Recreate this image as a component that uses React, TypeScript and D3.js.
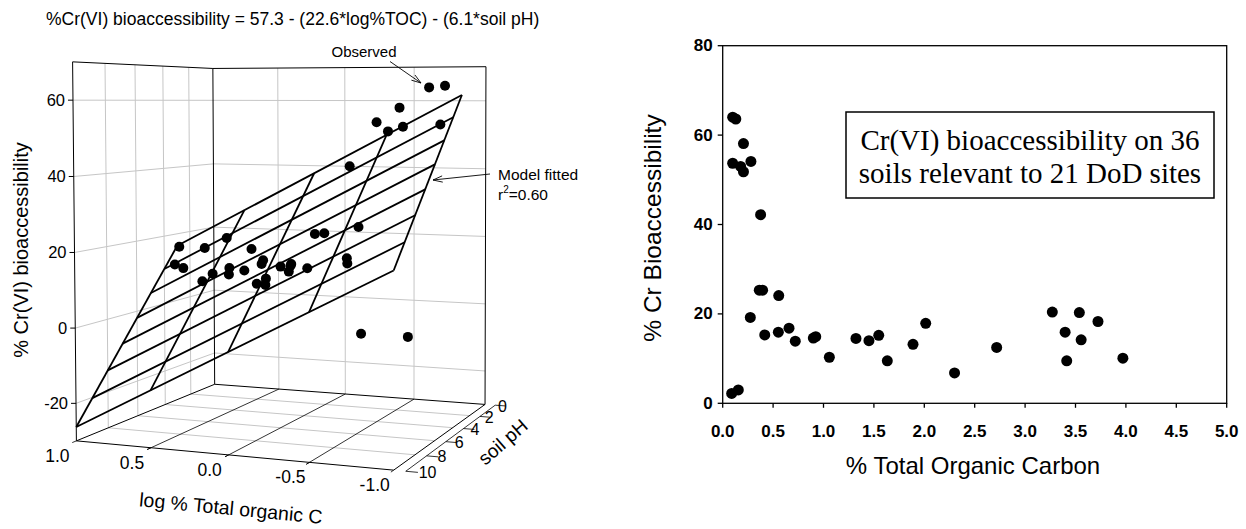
import React from "react";
import * as d3 from "d3";

// ---------------- DATA (36 soils) ----------------
const tocPct = [0.099, 0.13, 0.099, 0.178, 0.206, 0.206, 0.28, 0.376, 0.363, 0.396, 0.556, 0.274, 0.417, 0.552, 0.658, 0.72, 0.899, 0.923, 1.058, 1.322, 1.451, 1.548, 1.633, 1.888, 2.014, 2.3, 2.718, 3.27, 3.397, 3.413, 3.538, 3.556, 3.723, 3.97, 0.089, 0.155];
const crBio = [64.0, 63.6, 53.7, 53.0, 51.8, 58.1, 54.1, 42.2, 25.3, 25.3, 24.1, 19.2, 15.3, 15.9, 16.8, 13.9, 14.6, 14.9, 10.3, 14.5, 14.0, 15.2, 9.5, 13.2, 17.9, 6.8, 12.5, 20.4, 15.9, 9.5, 20.3, 14.2, 18.3, 10.1, 2.2, 3.0];
const soilPH = [5.0, 4.7, 5.5, 5.2, 5.7, 4.55, 4.8, 5.5, 4.9, 7.45, 6.3, 7.7, 5.1, 8.5, 8.2, 5.5, 5.7, 5.5, 6.9, 7.4, 8.1, 5.1, 4.6, 4.2, 4.7, 3.6, 5.0, 4.3, 8.0, 6.0, 7.5, 7.2, 5.4, 4.5, 9.5, 10.0];

const modelIntercept = 57.3;
const modelTocCoef = 22.6;
const modelPhCoef = 6.1;
const planeLogToc = [1, 0.5, 0, -0.5, -1];
const planePH = [3, 4, 5, 6, 7, 8, 9, 10];

const zTicks = [-20, 0, 20, 40, 60];
const logTocTicks = [1.0, 0.5, 0.0, -0.5, -1.0];
const phTicks = [0, 2, 4, 6, 8, 10];
const phGrid = [2, 4, 6, 8];
const logTocGrid = [0.5, 0, -0.5];

const tocTicks = [0, 0.5, 1, 1.5, 2, 2.5, 3, 3.5, 4, 4.5, 5];
const bioTicks = [0, 20, 40, 60, 80];

const leftTitle = "%Cr(VI) bioaccessibility = 57.3 - (22.6*log%TOC) - (6.1*soil pH)";
const boxLines = ["Cr(VI) bioaccessibility on 36", "soils relevant to 21 DoD sites"];

// ---------------- 3D projection ----------------
const uScale = d3.scaleLinear().domain([1, -1]).range([0, 1]);
const vScale = d3.scaleLinear().domain([10, 0]).range([0, 1]);
const wScale = d3.scaleLinear().domain([-30, 70]).range([0, 1]);

// box corner anchors (unit cube -> screen)
const anchors: number[][] = [
  [0, 0, 0, 77, 441],
  [0, 0, 1, 74, 60],
  [0, 1, 0, 215, 384],
  [0, 1, 1, 213, 69],
  [1, 1, 0, 486, 403],
  [1, 1, 1, 488, 67],
  [1, 0, 0, 393, 471],
  [1, 0.7, 0.916, 459, 95],
  [0, 0.7, 0.464, 175, 247],
  [1, 0, 0.489, 394, 271],
];

function solveLinear(A: number[][], b: number[]) {
  const n = b.length;
  const M = A.map((r, i) => [...r, b[i]]);
  for (let c = 0; c < n; c++) {
    let p = c;
    for (let r = c + 1; r < n; r++) if (Math.abs(M[r][c]) > Math.abs(M[p][c])) p = r;
    const t = M[c]; M[c] = M[p]; M[p] = t;
    for (let r = 0; r < n; r++) {
      if (r === c) continue;
      const f = M[r][c] / M[c][c];
      for (let k = c; k <= n; k++) M[r][k] -= f * M[c][k];
    }
  }
  return M.map((r, i) => r[n] / r[i]);
}

const CX = 280, CY = 260, SS = 200;
const P = (() => {
  const N = 11;
  const A = Array.from({ length: N }, () => Array(N).fill(0));
  const b = Array(N).fill(0);
  const add = (row: number[], rhs: number) => {
    for (let i = 0; i < N; i++) {
      for (let j = 0; j < N; j++) A[i][j] += row[i] * row[j];
      b[i] += row[i] * rhs;
    }
  };
  for (const [X, Y, Z, px, py] of anchors) {
    const x = (px - CX) / SS, y = (py - CY) / SS;
    add([X, Y, Z, 1, 0, 0, 0, 0, -x * X, -x * Y, -x * Z], x);
    add([0, 0, 0, 0, X, Y, Z, 1, -y * X, -y * Y, -y * Z], y);
  }
  return solveLinear(A, b);
})();

function proj(u: number, v: number, w: number): [number, number] {
  const d = P[8] * u + P[9] * v + P[10] * w + 1;
  const x = (P[0] * u + P[1] * v + P[2] * w + P[3]) / d;
  const y = (P[4] * u + P[5] * v + P[6] * w + P[7]) / d;
  return [x * SS + CX, y * SS + CY];
}
const pt = (lt: number, ph: number, z: number) => proj(uScale(lt), vScale(ph), wScale(z));
const modelZ = (lt: number, ph: number) => modelIntercept - modelTocCoef * lt - modelPhCoef * ph;

// ---------------- 2D scales ----------------
const xScale = d3.scaleLinear().domain([0, 5]).range([722.7, 1226.7]);
const yScale = d3.scaleLinear().domain([0, 80]).range([403.3, 45.7]);

const SANS = "'Liberation Sans', Arial, Helvetica, sans-serif";
const SERIF = "'Liberation Serif', 'Times New Roman', serif";

function Seg({ a, b, stroke = "#000", w = 1 }: { a: [number, number]; b: [number, number]; stroke?: string; w?: number }) {
  return <line x1={a[0]} y1={a[1]} x2={b[0]} y2={b[1]} stroke={stroke} strokeWidth={w} />;
}

function Arrow({ from, to }: { from: [number, number]; to: [number, number] }) {
  const ang = Math.atan2(to[1] - from[1], to[0] - from[0]);
  const L = 10, spread = 0.32;
  const h1: [number, number] = [to[0] - L * Math.cos(ang - spread), to[1] - L * Math.sin(ang - spread)];
  const h2: [number, number] = [to[0] - L * Math.cos(ang + spread), to[1] - L * Math.sin(ang + spread)];
  return (
    <g>
      <Seg a={from} b={to} w={0.9} />
      <Seg a={h1} b={to} w={0.9} />
      <Seg a={h2} b={to} w={0.9} />
    </g>
  );
}

function Left3D() {
  const grid = "#c6c6c6";
  const els: React.ReactNode[] = [];
  let k = 0;
  // gridlines on walls
  zTicks.forEach((z) => {
    const w = wScale(z);
    els.push(<Seg key={k++} a={proj(0, 0, w)} b={proj(0, 1, w)} stroke={grid} />);
    els.push(<Seg key={k++} a={proj(0, 1, w)} b={proj(1, 1, w)} stroke={grid} />);
  });
  phGrid.forEach((ph) => {
    const v = vScale(ph);
    els.push(<Seg key={k++} a={proj(0, v, 0)} b={proj(0, v, 1)} stroke={grid} />);
    els.push(<Seg key={k++} a={proj(0, v, 0)} b={proj(1, v, 0)} stroke={grid} />);
  });
  logTocGrid.forEach((lt) => {
    const u = uScale(lt);
    els.push(<Seg key={k++} a={proj(u, 1, 0)} b={proj(u, 1, 1)} stroke={grid} />);
    els.push(<Seg key={k++} a={proj(u, -0.025, 0)} b={proj(u, 1, 0)} stroke="#000" w={0.8} />);
  });
  // frame
  const edges: [number[], number[]][] = [
    [[0, 0, 0], [0, 0, 1]],
    [[0, 0, 1], [0, 1, 1]],
    [[0, 1, 0], [0, 1, 1]],
    [[0, 1, 1], [1, 1, 1]],
    [[1, 1, 0], [1, 1, 1]],
    [[0, 0, 0], [0, 1, 0]],
    [[0, 1, 0], [1, 1, 0]],
    [[0, 0, 0], [1, 0, 0]],
    [[1, 0, 0], [1, 1, 0]],
  ];
  edges.forEach(([a, b]) => {
    els.push(<Seg key={k++} a={proj(a[0], a[1], a[2])} b={proj(b[0], b[1], b[2])} w={1} />);
  });
  // z axis ticks + labels
  zTicks.forEach((z) => {
    const p = proj(0, 0, wScale(z));
    els.push(<Seg key={k++} a={[p[0] - 5, p[1]]} b={p} />);
    els.push(
      <text key={k++} x={p[0] - 8} y={p[1]} textAnchor="end" dominantBaseline="central" fontSize={16.5} fontFamily={SANS}>
        {z}
      </text>
    );
  });
  // log TOC ticks + labels
  logTocTicks.forEach((lt) => {
    const u = uScale(lt);
    const p = proj(u, 0, 0);
    els.push(<Seg key={k++} a={p} b={proj(u, -0.025, 0)} w={0.8} />);
    els.push(
      <text key={k++} x={p[0] - 19} y={p[1] + 15} textAnchor="middle" dominantBaseline="central" fontSize={17.5} fontFamily={SANS}>
        {lt.toFixed(1)}
      </text>
    );
  });
  // pH axis
  const ua = 1.035;
  els.push(<Seg key={k++} a={proj(ua, 0, 0)} b={proj(ua, 1, 0)} w={0.8} />);
  phTicks.forEach((ph) => {
    const v = vScale(ph);
    els.push(<Seg key={k++} a={proj(ua, v, 0)} b={proj(ua + 0.035, v, 0)} w={0.8} />);
    const p = proj(1, v, 0);
    els.push(
      <text key={k++} x={p[0] + 13 + 12 * (1 - v)} y={p[1] + 2} textAnchor="start" dominantBaseline="central" fontSize={16} fontFamily={SANS}>
        {ph}
      </text>
    );
  });
  // fitted plane mesh
  planePH.forEach((ph) => {
    els.push(<Seg key={k++} a={pt(1, ph, modelZ(1, ph))} b={pt(-1, ph, modelZ(-1, ph))} w={1.8} />);
  });
  planeLogToc.forEach((lt) => {
    const p0 = planePH[0], p1 = planePH[planePH.length - 1];
    els.push(<Seg key={k++} a={pt(lt, p0, modelZ(lt, p0))} b={pt(lt, p1, modelZ(lt, p1))} w={1.8} />);
  });
  // observations
  tocPct.forEach((t, i) => {
    const p = pt(Math.log10(t), soilPH[i], crBio[i]);
    els.push(<circle key={k++} cx={p[0]} cy={p[1]} r={5} fill="#000" />);
  });
  return (
    <g>
      {els}
      <text x={46} y={24.5} fontSize={17.5} fontFamily={SANS}>{leftTitle}</text>
      <text x={20.5} y={250} fontSize={20} fontFamily={SANS} textAnchor="middle" dominantBaseline="central" transform="rotate(-90 20.5 250)">
        % Cr(VI) bioaccessibility
      </text>
      <text x={231} y={508} fontSize={19.5} fontFamily={SANS} textAnchor="middle" dominantBaseline="central" transform="rotate(5.5 231 508)">
        log % Total organic C
      </text>
      <text x={503} y={442} fontSize={19} fontFamily={SANS} textAnchor="middle" dominantBaseline="central" transform="rotate(-41 503 442)">
        soil pH
      </text>
      <text x={364} y={57} fontSize={15} fontFamily={SANS} textAnchor="middle">Observed</text>
      <Arrow from={[390, 61.5]} to={[421, 83]} />
      <text x={498} y={180} fontSize={15.5} fontFamily={SANS}>Model fitted</text>
      <text x={498} y={200} fontSize={15.5} fontFamily={SANS}>
        r<tspan fontSize={10} dy={-7}>2</tspan><tspan dy={7}>=0.60</tspan>
      </text>
      <Arrow from={[490, 174]} to={[433, 180]} />
    </g>
  );
}

function Right2D() {
  const [x0, x1] = xScale.range();
  const [y0, y1] = yScale.range();
  return (
    <g>
      <rect x={x0} y={y1} width={x1 - x0} height={y0 - y1} fill="none" stroke="#000" strokeWidth={1.3} />
      {bioTicks.map((t) => (
        <g key={"y" + t}>
          <line x1={x0 - 5} x2={x0} y1={yScale(t)} y2={yScale(t)} stroke="#000" strokeWidth={1.3} />
          <text x={x0 - 10} y={yScale(t)} textAnchor="end" dominantBaseline="central" fontSize={17} fontWeight="bold" fontFamily={SANS}>
            {t}
          </text>
        </g>
      ))}
      {tocTicks.map((t) => (
        <g key={"x" + t}>
          <line x1={xScale(t)} x2={xScale(t)} y1={y0} y2={y0 + 4.5} stroke="#000" strokeWidth={1.3} />
          <text x={xScale(t)} y={436.7} textAnchor="middle" fontSize={17} fontWeight="bold" fontFamily={SANS}>
            {t.toFixed(1)}
          </text>
        </g>
      ))}
      {tocPct.map((t, i) => (
        <circle key={"d" + i} cx={xScale(t)} cy={yScale(crBio[i])} r={5.5} fill="#000" />
      ))}
      <text x={973} y={474} textAnchor="middle" fontSize={24} fontFamily={SANS}>% Total Organic Carbon</text>
      <text x={652} y={228} textAnchor="middle" dominantBaseline="central" fontSize={24.5} fontFamily={SANS} transform="rotate(-90 652 228)">
        % Cr Bioaccessibility
      </text>
      <rect x={846} y={112} width={368} height={86} fill="#fff" stroke="#000" strokeWidth={1.5} />
      {boxLines.map((s, i) => (
        <text key={"b" + i} x={1030} y={149.7 + i * 33} textAnchor="middle" fontSize={29} fontFamily={SERIF}>
          {s}
        </text>
      ))}
    </g>
  );
}

export default function App() {
  return (
    <svg width={1246} height={529} style={{ position: "absolute", left: 0, top: 0, background: "#fff" }}>
      <rect x={0} y={0} width={1246} height={529} fill="#fff" />
      <Left3D />
      <Right2D />
    </svg>
  );
}
